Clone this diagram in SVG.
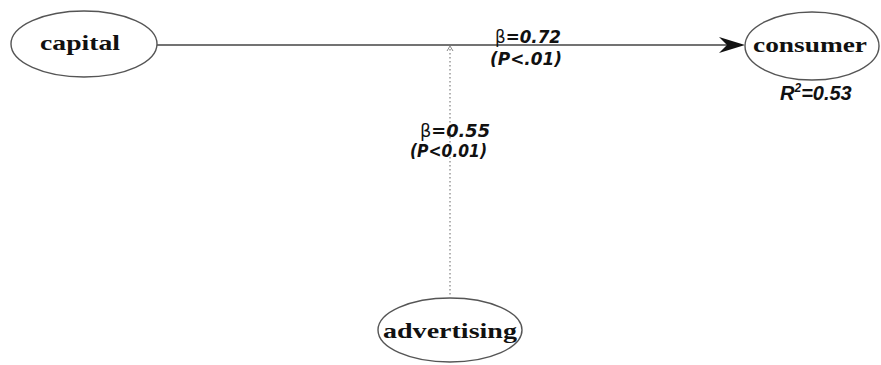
<svg xmlns="http://www.w3.org/2000/svg" width="881" height="365" viewBox="0 0 881 365">
<style>
.node ellipse{fill:#fff;stroke:#555;stroke-width:1.4}
.node text{font-family:"Liberation Serif","Times New Roman",serif;font-weight:bold;font-size:21px;fill:#111;text-anchor:middle}
.lbl{font-family:"DejaVu Sans","Liberation Sans",sans-serif;font-weight:bold;font-style:italic;font-size:17px;fill:#111}
.beta{font-style:normal;font-weight:normal}
.node text.r2{font-family:"Liberation Sans",Arial,sans-serif;font-weight:bold;font-style:italic;font-size:20px;fill:#111;text-anchor:start}
</style>
<rect width="881" height="365" fill="#fff"/>
<g id="connectors">
  <line x1="157" y1="45" x2="728" y2="45" stroke="#444" stroke-width="1.5"/>
  <polygon points="745,45 719,37 727,45 719,53" fill="#111"/>
  <line x1="450" y1="49" x2="450" y2="296" stroke="#999" stroke-width="1.5" stroke-dasharray="1.5 2.5"/>
  <polyline points="447,51 450,46 453,51" fill="none" stroke="#888" stroke-width="1"/>
  <text class="lbl" x="495" y="43" textLength="66" lengthAdjust="spacingAndGlyphs"><tspan class="beta">β</tspan>=0.72</text>
  <text class="lbl" x="490" y="65" textLength="72" lengthAdjust="spacingAndGlyphs">(P&lt;.01)</text>
  <text class="lbl" x="420" y="137" textLength="70" lengthAdjust="spacingAndGlyphs"><tspan class="beta">β</tspan>=0.55</text>
  <text class="lbl" x="410" y="157" textLength="77" lengthAdjust="spacingAndGlyphs">(P&lt;0.01)</text>
</g>
<g id="capital" class="node">
  <ellipse cx="84" cy="44" rx="73" ry="33"/>
  <text x="80" y="50" textLength="80" lengthAdjust="spacingAndGlyphs">capital</text>
</g>
<g id="consumer" class="node">
  <ellipse cx="812" cy="46" rx="67" ry="34"/>
  <text x="810" y="52" textLength="114" lengthAdjust="spacingAndGlyphs">consumer</text>
  <text class="r2" x="780" y="100">R<tspan font-size="12" dy="-8">2</tspan><tspan dy="8">=0.53</tspan></text>
</g>
<g id="advertising" class="node">
  <ellipse cx="450" cy="330" rx="72" ry="32"/>
  <text x="450" y="338" textLength="134" lengthAdjust="spacingAndGlyphs">advertising</text>
</g>
</svg>
